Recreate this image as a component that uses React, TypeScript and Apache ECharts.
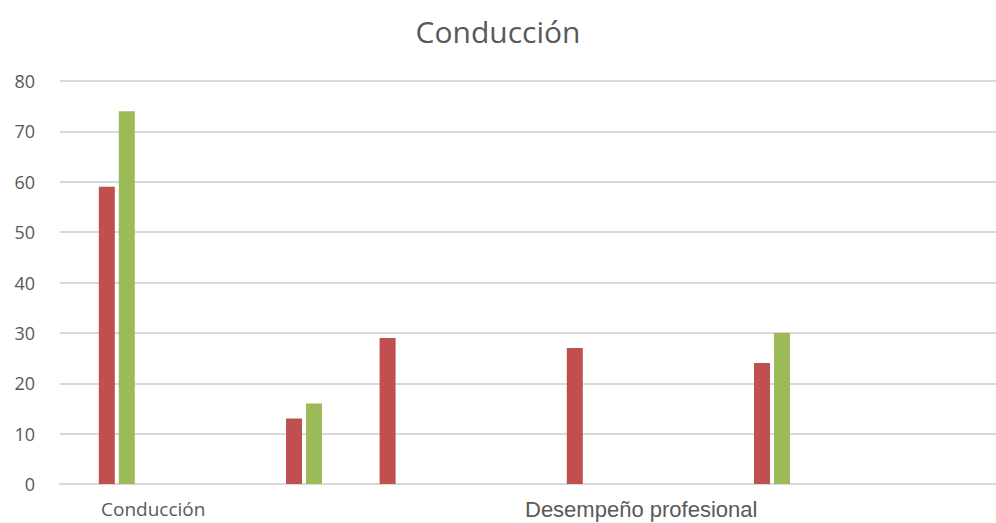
import React, { useEffect, useRef } from "react";
import * as echarts from "echarts";

const categories = ["C1", "C2", "C3", "C4", "C5", "C6", "C7", "C8", "C9", "C10"];
const seriesBlank: (number | null)[] = [null, null, null, null, null, null, null, null, null, null];
const seriesRed: (number | null)[] = [59, null, 13, 29, null, 27, null, 24, null, null];
const seriesGreen: (number | null)[] = [74, null, 16, null, null, null, null, 30, null, null];
const yTicks = { min: 0, max: 80, interval: 10 };
const titleText = "Conducción";
const groupLabels = ["Conducción", "Desempeño profesional"];

export default function App() {
  const ref = useRef<HTMLDivElement>(null);
  useEffect(() => {
    if (!ref.current) return;
    const chart = echarts.init(ref.current, undefined, { renderer: "svg" });
    chart.setOption({
      animation: false,
      backgroundColor: "#ffffff",
      title: {
        text: titleText,
        left: "center",
        top: 11,
        textStyle: { fontFamily: "Open Sans", fontSize: 30, fontWeight: "normal", color: "#595959" },
      },
      grid: { left: 60, top: 81, width: 946, height: 403, containLabel: false },
      xAxis: {
        type: "category",
        data: categories,
        axisLine: { show: true, lineStyle: { color: "#d9d9d9", width: 2 } },
        axisTick: { show: false },
        axisLabel: { show: false },
      },
      yAxis: {
        type: "value",
        min: yTicks.min,
        max: yTicks.max,
        interval: yTicks.interval,
        axisLine: { show: false },
        axisTick: { show: false },
        splitLine: { lineStyle: { color: "#d9d9d9", width: 2 } },
        axisLabel: { margin: 25, fontFamily: "Open Sans", fontSize: 18, color: "#595959", padding: [4, 0, 0, 0] },
      },
      series: [
        { type: "bar", data: seriesBlank, barWidth: 16, barGap: "25%", itemStyle: { color: "#4F81BD" } },
        { type: "bar", data: seriesRed, barWidth: 16, barGap: "25%", itemStyle: { color: "#C0504D" } },
        { type: "bar", data: seriesGreen, barWidth: 16, barGap: "25%", itemStyle: { color: "#9BBB59" } },
      ],
      graphic: [
        {
          type: "text",
          left: 101,
          top: 499,
          style: { text: groupLabels[0], fontFamily: "Open Sans", fontSize: 19, lineHeight: 19, fill: "#595959" },
        },
        {
          type: "text",
          left: 525,
          top: 498,
          style: { text: groupLabels[1], fontFamily: "Liberation Sans", fontSize: 22, lineHeight: 22, fill: "#595959" },
        },
      ],
    });
    return () => chart.dispose();
  }, []);
  return (
    <div
      ref={ref}
      style={{ position: "fixed", left: 0, top: 0, width: 996, height: 523, background: "#fff" }}
    />
  );
}
